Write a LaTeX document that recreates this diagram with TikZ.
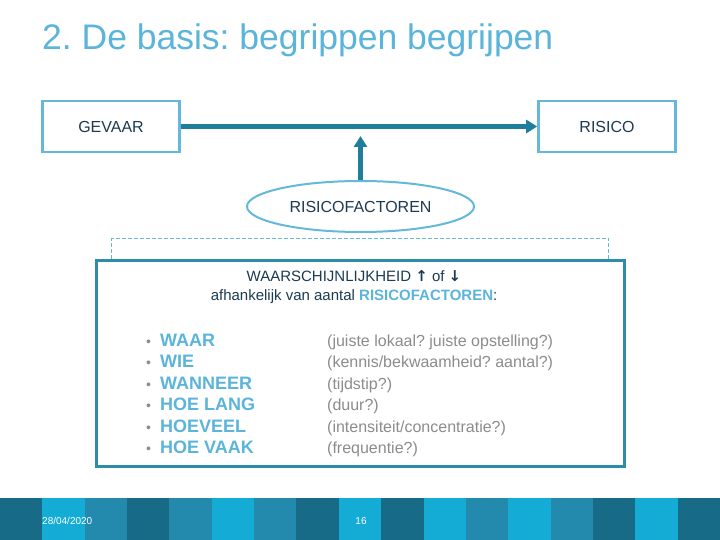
\documentclass[tikz,border=0pt]{standalone}
\usepackage{fontspec}
\setmainfont{Liberation Sans}
\newfontfamily\pijlfont{DejaVu Sans}
\usetikzlibrary{arrows.meta,shapes.geometric,calc}
\frenchspacing

\definecolor{titelblauw}{HTML}{5BB4DA}
\definecolor{kaderblauw}{HTML}{64B8DA}
\definecolor{pijlteal}{HTML}{1F7E9C}
\definecolor{kaderteal}{HTML}{2D8CA7}
\definecolor{donkertekst}{HTML}{1C3B52}
\definecolor{grijstekst}{HTML}{8C8C8C}
\definecolor{strookD}{HTML}{176B86}
\definecolor{strookB}{HTML}{14ABD5}
\definecolor{strookM}{HTML}{238AAD}

\begin{document}
\begin{tikzpicture}[x=1pt,y=-1pt,
  begrip/.style={draw=kaderblauw,line width=2.6pt,minimum width=137pt,minimum height=51pt,
    text=donkertekst,font=\fontsize{16}{19}\selectfont},
  factor/.style={ellipse,draw=kaderblauw,line width=2pt,minimum width=227pt,minimum height=51pt,
    text=donkertekst,font=\fontsize{16}{19}\selectfont},
  dikpijl/.style={draw=pijlteal,line width=4.5pt,-{Triangle[length=11pt,width=13pt]}},
  kader/.style={draw=kaderteal,line width=3pt,minimum width=528pt,minimum height=206pt},
  vraag/.style={anchor=base west,inner sep=0pt,text=titelblauw,font=\fontsize{18}{21}\selectfont\bfseries},
  uitleg/.style={anchor=base west,inner sep=0pt,text=grijstekst,font=\fontsize{16}{19}\selectfont},
  voet/.style={inner sep=0pt,text=white,font=\fontsize{10}{12}\selectfont}]
\useasboundingbox (0,0) rectangle (720,540);
\fill[white] (0,0) rectangle (720,540);

% titel
\node[anchor=base west,inner sep=0pt,text=titelblauw,font=\fontsize{35.5}{42}\selectfont] (titel) at (42,50) {2. De basis: begrippen begrijpen};

% gevaar -> risico
\node[begrip] (gevaar) at (111,126.5) {GEVAAR};
\node[begrip] (risico) at (607,126.5) {RISICO};
\draw[dikpijl] (gevaar) -- (risico);

\node[factor] (factoren) at (360.5,206.5) {RISICOFACTOREN};
\coordinate (pijlpunt) at (360.5,136);
\draw[dikpijl] (factoren.north) -- (pijlpunt);

% kader met de factoren
\node[kader] (kader) at (360,363) {};
\draw[kaderblauw,line width=1.5pt,dash pattern=on 4pt off 2pt]
  ($(kader.north west)+(17,0)$) -- ++(0,-20) -| ($(kader.north east)+(-17,0)$);

\node[align=center,text=donkertekst,font=\fontsize{15}{19}\selectfont] (kop) at (354,287)
  {WAARSCHIJNLIJKHEID {\pijlfont\bfseries ↑} of {\pijlfont\bfseries ↓}\\
   afhankelijk van aantal {\color{titelblauw}\bfseries RISICOFACTOREN}:};

\foreach \wat/\uitleg [count=\i from 0] in {
  {WAAR}/{(juiste lokaal? juiste opstelling?)},
  {WIE}/{(kennis/bekwaamheid? aantal?)},
  {WANNEER}/{(tijdstip?)},
  {HOE LANG}/{(duur?)},
  {HOEVEEL}/{(intensiteit/concentratie?)},
  {HOE VAAK}/{(frequentie?)}}{
  \node[vraag,text=grijstekst,font=\fontsize{14}{17}\selectfont] (punt\i) at (146,346.5+21.4*\i) {•};
  \node[vraag] (vraag\i) at (160,346.5+21.4*\i) {\wat};
  \node[uitleg] (uitleg\i) at (327,346.5+21.4*\i) {\uitleg};
}

% voetstrook
\foreach \kleur [count=\i from 0] in {strookD,strookB,strookM,strookD,strookM,strookB,strookM,strookD,strookB,strookD,strookB,strookM,strookB,strookM,strookD,strookB,strookD}
  \fill[\kleur] (720/17*\i,498) rectangle (720/17*\i+720/17+0.3,540);
\node[voet,anchor=west] (datum) at (42,521) {28/04/2020};
\node[voet] (pagina) at (361,521) {16};
\end{tikzpicture}
\end{document}
